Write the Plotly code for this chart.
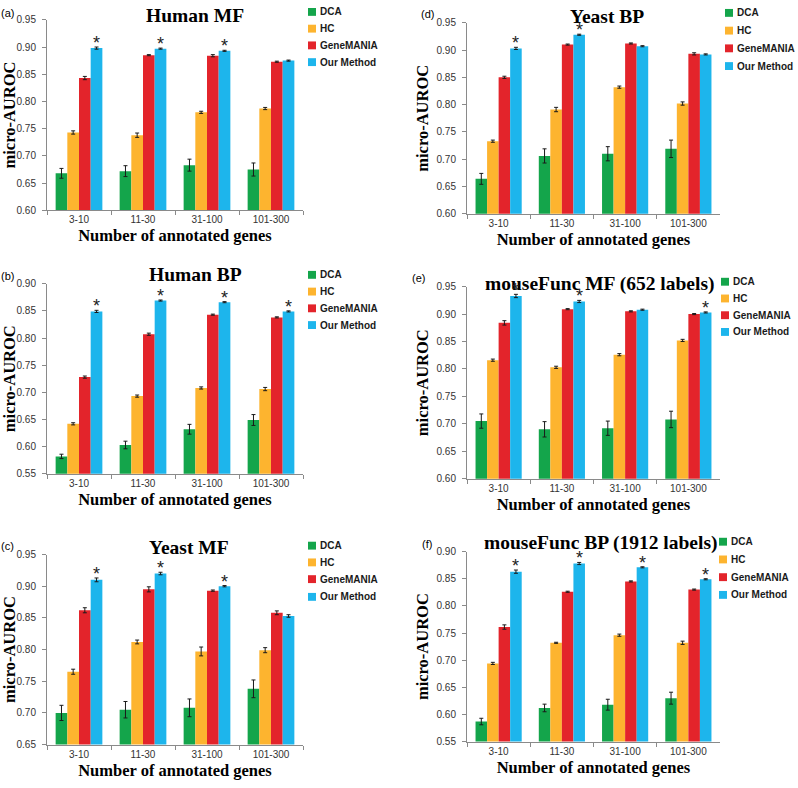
import plotly.graph_objects as go

W, H = 798, 788

categories = ["3-10", "11-30", "31-100", "101-300"]
methods = ["DCA", "HC", "GeneMANIA", "Our Method"]
colors = ["#14A54B", "#FDB42F", "#E3242B", "#1DB5EC"]

# (a) Human MF
human_mf_dca = [0.668, 0.672, 0.683, 0.675]
human_mf_hc = [0.743, 0.738, 0.780, 0.787]
human_mf_gm = [0.843, 0.885, 0.884, 0.873]
human_mf_our = [0.898, 0.897, 0.893, 0.875]
human_mf_dca_err = [0.009, 0.010, 0.011, 0.012]
human_mf_hc_err = [0.003, 0.004, 0.002, 0.002]
human_mf_gm_err = [0.003, 0.001, 0.002, 0.001]
human_mf_our_err = [0.002, 0.001, 0.001, 0.001]
human_mf_star = [True, True, True, False]

# (b) Human BP
human_bp_dca = [0.582, 0.603, 0.632, 0.649]
human_bp_hc = [0.642, 0.693, 0.708, 0.706]
human_bp_gm = [0.728, 0.807, 0.843, 0.838]
human_bp_our = [0.849, 0.869, 0.866, 0.849]
human_bp_dca_err = [0.004, 0.007, 0.009, 0.010]
human_bp_hc_err = [0.002, 0.002, 0.002, 0.003]
human_bp_gm_err = [0.002, 0.002, 0.001, 0.001]
human_bp_our_err = [0.002, 0.001, 0.001, 0.001]
human_bp_star = [True, True, True, True]

# (c) Yeast MF
yeast_mf_dca = [0.700, 0.705, 0.708, 0.738]
yeast_mf_hc = [0.765, 0.812, 0.797, 0.799]
yeast_mf_gm = [0.862, 0.895, 0.893, 0.858]
yeast_mf_our = [0.910, 0.920, 0.900, 0.853]
yeast_mf_dca_err = [0.012, 0.013, 0.014, 0.014]
yeast_mf_hc_err = [0.004, 0.003, 0.007, 0.004]
yeast_mf_gm_err = [0.004, 0.004, 0.001, 0.003]
yeast_mf_our_err = [0.003, 0.002, 0.001, 0.002]
yeast_mf_star = [True, True, True, False]

# (d) Yeast BP
yeast_bp_dca = [0.664, 0.706, 0.710, 0.719]
yeast_bp_hc = [0.733, 0.791, 0.832, 0.802]
yeast_bp_gm = [0.850, 0.910, 0.912, 0.893]
yeast_bp_our = [0.903, 0.928, 0.907, 0.892]
yeast_bp_dca_err = [0.010, 0.013, 0.013, 0.016]
yeast_bp_hc_err = [0.002, 0.004, 0.002, 0.003]
yeast_bp_gm_err = [0.002, 0.001, 0.001, 0.002]
yeast_bp_our_err = [0.002, 0.001, 0.001, 0.001]
yeast_bp_star = [True, True, False, False]

# (e) mouseFunc MF
mouse_mf_dca = [0.705, 0.690, 0.692, 0.708]
mouse_mf_hc = [0.816, 0.803, 0.826, 0.852]
mouse_mf_gm = [0.884, 0.909, 0.905, 0.900]
mouse_mf_our = [0.933, 0.923, 0.908, 0.903]
mouse_mf_dca_err = [0.013, 0.014, 0.013, 0.015]
mouse_mf_hc_err = [0.002, 0.002, 0.002, 0.002]
mouse_mf_gm_err = [0.004, 0.001, 0.001, 0.001]
mouse_mf_our_err = [0.003, 0.002, 0.001, 0.001]
mouse_mf_star = [True, True, False, True]

# (f) mouseFunc BP
mouse_bp_dca = [0.587, 0.612, 0.618, 0.630]
mouse_bp_hc = [0.694, 0.732, 0.746, 0.732]
mouse_bp_gm = [0.761, 0.826, 0.845, 0.830]
mouse_bp_our = [0.863, 0.878, 0.871, 0.849]
mouse_bp_dca_err = [0.006, 0.007, 0.010, 0.011]
mouse_bp_hc_err = [0.002, 0.001, 0.002, 0.003]
mouse_bp_gm_err = [0.004, 0.001, 0.001, 0.001]
mouse_bp_our_err = [0.003, 0.002, 0.001, 0.001]
mouse_bp_star = [True, True, True, True]

panels = [
    dict(label="(a)", title="Human MF", yr=[0.60, 0.95],
         vals=[human_mf_dca, human_mf_hc, human_mf_gm, human_mf_our],
         errs=[human_mf_dca_err, human_mf_hc_err, human_mf_gm_err, human_mf_our_err],
         star=human_mf_star, box=(47, 303, 14, 207.5), tx=195, ty=10,
         lx=7, ly=7, legx=308, legy=[6, 23, 40, 57]),
    dict(label="(b)", title="Human BP", yr=[0.55, 0.90],
         vals=[human_bp_dca, human_bp_hc, human_bp_gm, human_bp_our],
         errs=[human_bp_dca_err, human_bp_hc_err, human_bp_gm_err, human_bp_our_err],
         star=human_bp_star, box=(47, 303, 282, 475), tx=195, ty=273,
         lx=7, ly=274, legx=308, legy=[273, 290, 307, 324]),
    dict(label="(c)", title="Yeast MF", yr=[0.65, 0.95],
         vals=[yeast_mf_dca, yeast_mf_hc, yeast_mf_gm, yeast_mf_our],
         errs=[yeast_mf_dca_err, yeast_mf_hc_err, yeast_mf_gm_err, yeast_mf_our_err],
         star=yeast_mf_star, box=(47, 303, 557, 750), tx=189, ty=550,
         lx=7, ly=548, legx=308, legy=[548, 565, 582, 600]),
    dict(label="(d)", title="Yeast BP", yr=[0.60, 0.95],
         vals=[yeast_bp_dca, yeast_bp_hc, yeast_bp_gm, yeast_bp_our],
         errs=[yeast_bp_dca_err, yeast_bp_hc_err, yeast_bp_gm_err, yeast_bp_our_err],
         star=yeast_bp_star, box=(467, 720, 17, 211), tx=607, ty=11,
         lx=427, ly=8, legx=725, legy=[7, 25, 43, 61]),
    dict(label="(e)", title="mouseFunc MF (652 labels)", yr=[0.60, 0.95],
         vals=[mouse_mf_dca, mouse_mf_hc, mouse_mf_gm, mouse_mf_our],
         errs=[mouse_mf_dca_err, mouse_mf_hc_err, mouse_mf_gm_err, mouse_mf_our_err],
         star=mouse_mf_star, box=(467, 720, 285, 480), tx=599, ty=282,
         lx=418, ly=276, legx=721, legy=[280, 297, 314, 331]),
    dict(label="(f)", title="mouseFunc BP (1912 labels)", yr=[0.55, 0.90],
         vals=[mouse_bp_dca, mouse_bp_hc, mouse_bp_gm, mouse_bp_our],
         errs=[mouse_bp_dca_err, mouse_bp_hc_err, mouse_bp_gm_err, mouse_bp_our_err],
         star=mouse_bp_star, box=(467, 720, 554, 747), tx=600, ty=545,
         lx=427, ly=546, legx=719, legy=[544, 562, 580, 598]),
]

AXC = "#8a8a8a"
SANS = "Liberation Sans, Arial, sans-serif"
TICKF = dict(family=SANS, size=10, color="#333333")
SERIF = "Liberation Serif, Times New Roman, serif"
BARGAP = 0.27
SW = 8  # legend swatch size in px

fig = go.Figure()
annotations = []
shapes = []
layout = dict(
    width=W, height=H, margin=dict(l=0, r=0, t=0, b=0),
    paper_bgcolor="white", plot_bgcolor="white",
    barmode="group", bargap=BARGAP, bargroupgap=0, showlegend=False,
)

for i, p in enumerate(panels):
    n = i + 1
    xa = "x" if n == 1 else f"x{n}"
    ya = "y" if n == 1 else f"y{n}"
    for m, name in enumerate(methods):
        fig.add_trace(go.Bar(
            x=categories, y=p["vals"][m], name=name,
            marker=dict(color=colors[m], line=dict(width=0)),
            error_y=dict(type="data", array=p["errs"][m], color="#1a1a1a",
                         thickness=1, width=2),
            xaxis=xa, yaxis=ya, showlegend=False,
        ))
    l, r, t, b = p["box"]
    xkey = "xaxis" if n == 1 else f"xaxis{n}"
    ykey = "yaxis" if n == 1 else f"yaxis{n}"
    layout[xkey] = dict(
        domain=[l / W, r / W], anchor=ya, type="category",
        showline=True, linecolor=AXC, linewidth=1,
        ticks="outside", tickson="boundaries", ticklen=4, tickcolor=AXC,
        tickfont=TICKF, showgrid=False, zeroline=False,
        title=dict(text="Number of annotated genes",
                   font=dict(family=SERIF, size=16.5, weight="bold", color="black"),
                   standoff=5),
    )
    layout[ykey] = dict(
        domain=[1 - b / H, 1 - t / H], anchor=xa, range=p["yr"],
        dtick=0.05, tick0=0, tickformat=".2f",
        showline=True, linecolor=AXC, linewidth=1,
        ticks="outside", ticklen=4, tickcolor=AXC, ticklabelstandoff=4,
        tickfont=TICKF, showgrid=False, zeroline=False,
        title=dict(text="micro-AUROC",
                   font=dict(family=SERIF, size=16.5, weight="bold", color="black"),
                   standoff=3),
    )
    # legend (coloured squares + bold labels) at the panel's right
    for m, name in enumerate(methods):
        cy = p["legy"][m]
        shapes.append(dict(
            type="rect", xref="paper", yref="paper",
            x0=p["legx"] / W, x1=(p["legx"] + SW) / W,
            y0=1 - (cy + SW / 2) / H, y1=1 - (cy - SW / 2) / H,
            fillcolor=colors[m], line=dict(width=0)))
        annotations.append(dict(
            text=name, x=(p["legx"] + SW + 2) / W, y=1 - cy / H,
            xref="paper", yref="paper", xanchor="left", yanchor="middle",
            showarrow=False,
            font=dict(family=SANS, size=10, weight="bold", color="#1a1a1a")))
    # title & panel label
    annotations.append(dict(
        text=p["title"], x=p["tx"] / W, y=1 - p["ty"] / H, xref="paper", yref="paper",
        xanchor="center", yanchor="middle", showarrow=False,
        font=dict(family=SERIF, size=19.5, weight="bold", color="black")))
    annotations.append(dict(
        text=p["label"], x=p["lx"] / W, y=1 - p["ly"] / H, xref="paper", yref="paper",
        xanchor="center", yanchor="middle", showarrow=False,
        font=dict(family=SANS, size=11, color="black")))
    # significance stars above "Our Method"
    catw = (r - l) / len(categories)
    barw = catw * (1 - BARGAP) / len(methods)
    for c, v, e, s in zip(categories, p["vals"][3], p["errs"][3], p["star"]):
        if s:
            annotations.append(dict(
                text="*", x=c, y=v + e, xref=xa, yref=ya,
                xanchor="center", yanchor="bottom", showarrow=False,
                xshift=1.5 * barw, yshift=-8,
                font=dict(family=SANS, size=18, color="#222222")))

layout["annotations"] = annotations
layout["shapes"] = shapes
fig.update_layout(**layout)
fig.write_html("out.html", config={"displayModeBar": False},
               post_script="document.body.style.margin='0px';")
